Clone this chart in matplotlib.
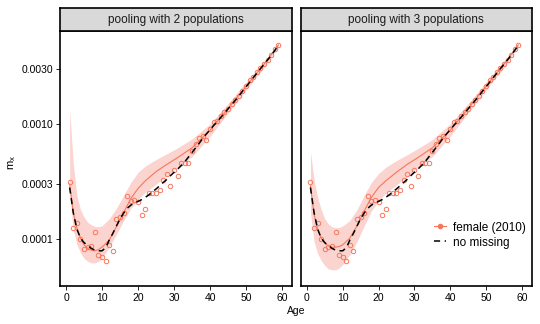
"""
Smoothed mx by age, pooling with 2 vs 3 populations
Generates: out.png
"""
import matplotlib
matplotlib.use("Agg")
import matplotlib.pyplot as plt
import numpy as np
from matplotlib.lines import Line2D

# observed female mx, ages 1..59
ages = np.arange(1, 60)
obs_mx = [
    3.1e-4, 1.24e-4, 1.37e-4, 1.0e-4, 8.2e-5, 8.5e-5, 8.7e-5, 1.15e-4, 7.2e-5, 7.0e-5,
    6.5e-5, 8.9e-5, 7.8e-5, 1.48e-4, 1.56e-4, 1.68e-4, 2.35e-4, 2.13e-4, 2.17e-4, 2.08e-4,
    1.61e-4, 1.81e-4, 2.53e-4, 2.5e-4, 2.5e-4, 2.69e-4, 3.26e-4, 3.65e-4, 2.87e-4, 3.95e-4,
    3.5e-4, 4.57e-4, 4.6e-4, 4.6e-4, 5.8e-4, 6.7e-4, 7.5e-4, 7.8e-4, 7.2e-4, 9.0e-4,
    1.03e-3, 1.05e-3, 1.17e-3, 1.27e-3, 1.35e-3, 1.50e-3, 1.60e-3, 1.75e-3, 1.93e-3, 2.12e-3,
    2.40e-3, 2.55e-3, 2.85e-3, 3.05e-3, 3.30e-3, 3.60e-3, 3.95e-3, 4.50e-3, 4.85e-3,
]

# complete-data fit ("no missing"), ages 1..59
nomiss_mx = [
    2.8e-4, 1.7e-4, 1.22e-4, 1.02e-4, 9.3e-5, 8.8e-5, 8.3e-5, 8.0e-5, 7.9e-5, 7.9e-5,
    8.4e-5, 9.8e-5, 1.12e-4, 1.3e-4, 1.5e-4, 1.68e-4, 1.85e-4, 1.97e-4, 2.05e-4, 2.12e-4,
    2.2e-4, 2.3e-4, 2.42e-4, 2.57e-4, 2.72e-4, 2.9e-4, 3.1e-4, 3.3e-4, 3.55e-4, 3.8e-4,
    4.05e-4, 4.35e-4, 4.7e-4, 5.15e-4, 5.65e-4, 6.2e-4, 6.8e-4, 7.5e-4, 8.2e-4, 8.9e-4,
    9.7e-4, 1.05e-3, 1.14e-3, 1.24e-3, 1.35e-3, 1.47e-3, 1.6e-3, 1.75e-3, 1.92e-3, 2.1e-3,
    2.3e-3, 2.52e-3, 2.76e-3, 3.02e-3, 3.3e-3, 3.6e-3, 3.95e-3, 4.35e-3, 4.8e-3,
]

# smoothed estimates with bands
fit_ages = [1, 2, 3, 4, 5, 6, 7, 8, 9, 10, 12, 14, 16, 18, 20, 22, 25, 28, 31, 35, 40, 45, 50, 55, 59]

fit2_mid = [3.0e-4, 1.7e-4, 1.25e-4, 1.02e-4, 8.9e-5, 8.3e-5, 8.0e-5, 7.9e-5, 8.1e-5, 8.5e-5,
            9.8e-5, 1.28e-4, 1.7e-4, 2.25e-4, 2.75e-4, 3.2e-4, 3.85e-4, 4.45e-4, 5.1e-4, 6.2e-4,
            8.8e-4, 1.36e-3, 2.12e-3, 3.3e-3, 4.85e-3]
fit2_hi = [1.35e-3, 4.5e-4, 2.4e-4, 1.8e-4, 1.55e-4, 1.4e-4, 1.33e-4, 1.28e-4, 1.28e-4, 1.3e-4,
           1.5e-4, 1.85e-4, 2.4e-4, 3.1e-4, 3.8e-4, 4.3e-4, 4.9e-4, 5.5e-4, 6.2e-4, 7.4e-4,
           1.0e-3, 1.5e-3, 2.3e-3, 3.5e-3, 5.0e-3]
fit2_lo = [2.5e-4, 1.2e-4, 9.0e-5, 7.6e-5, 6.8e-5, 6.4e-5, 6.2e-5, 6.2e-5, 6.4e-5, 6.8e-5,
           8.5e-5, 1.1e-4, 1.45e-4, 1.85e-4, 2.2e-4, 2.55e-4, 3.0e-4, 3.55e-4, 4.2e-4, 5.2e-4,
           7.8e-4, 1.25e-3, 1.98e-3, 3.1e-3, 4.7e-3]

fit3_mid = [2.9e-4, 1.65e-4, 1.22e-4, 1.02e-4, 9.2e-5, 8.7e-5, 8.5e-5, 8.5e-5, 8.6e-5, 8.9e-5,
            1.02e-4, 1.3e-4, 1.75e-4, 2.3e-4, 2.8e-4, 3.2e-4, 3.8e-4, 4.45e-4, 5.1e-4, 6.2e-4,
            8.8e-4, 1.36e-3, 2.12e-3, 3.3e-3, 4.85e-3]
fit3_hi = [5.7e-4, 3.3e-4, 2.3e-4, 1.8e-4, 1.5e-4, 1.35e-4, 1.28e-4, 1.25e-4, 1.26e-4, 1.3e-4,
           1.45e-4, 1.8e-4, 2.4e-4, 3.1e-4, 3.7e-4, 4.2e-4, 4.8e-4, 5.4e-4, 6.1e-4, 7.3e-4,
           1.0e-3, 1.5e-3, 2.3e-3, 3.5e-3, 5.0e-3]
fit3_lo = [1.7e-4, 9.5e-5, 7.5e-5, 6.5e-5, 5.9e-5, 5.5e-5, 5.4e-5, 5.4e-5, 5.6e-5, 6.0e-5,
           7.3e-5, 9.5e-5, 1.3e-4, 1.75e-4, 2.15e-4, 2.5e-4, 2.95e-4, 3.5e-4, 4.2e-4, 5.2e-4,
           7.8e-4, 1.25e-3, 1.98e-3, 3.1e-3, 4.7e-3]

panel_titles = ["pooling with 2 populations", "pooling with 3 populations"]
y_ticks = [1e-4, 3e-4, 1e-3, 3e-3]
y_ticklabels = ["0.0001", "0.0003", "0.0010", "0.0030"]
x_ticks = [0, 10, 20, 30, 40, 50, 60]

RED = "#F8765C"
BAND = "#FBD3CF"

plt.rcParams["font.family"] = ["Liberation Sans", "DejaVu Sans"]

fig = plt.figure(figsize=(5.4, 3.24), dpi=100)
panels = [(0.111, 0.430), (0.557, 0.428)]
bottom, height = 0.117, 0.787
strip_h = 0.071

fits = [(fit2_mid, fit2_lo, fit2_hi), (fit3_mid, fit3_lo, fit3_hi)]

axes = []
for i, ((left, width), (mid, lo, hi)) in enumerate(zip(panels, fits)):
    ax = fig.add_axes([left, bottom, width, height])
    axes.append(ax)
    ax.fill_between(fit_ages, lo, hi, color=BAND, linewidth=0, zorder=1)
    ax.plot(fit_ages, mid, color=RED, linewidth=0.8, zorder=3)
    ax.plot(ages, obs_mx, linestyle="none", marker="o", markersize=3.2,
            markerfacecolor="none", markeredgecolor=RED, markeredgewidth=0.7, zorder=4)
    ax.plot(ages, nomiss_mx, color="black", linewidth=1.1, dashes=(4, 3), zorder=5)

    ax.set_yscale("log")
    ax.set_ylim(3.9e-5, 6.4e-3)
    ax.set_xlim(-1.7, 62.8)
    ax.set_xticks(x_ticks)
    ax.set_yticks(y_ticks)
    ax.minorticks_off()
    ax.tick_params(labelsize=7.5, length=3, width=0.6, colors="black", pad=2)
    if i == 0:
        ax.set_yticklabels(y_ticklabels)
    else:
        ax.set_yticklabels([])
        ax.tick_params(axis="y", length=0)
    for spine in ax.spines.values():
        spine.set_linewidth(1.2)

    sax = fig.add_axes([left, bottom + height, width, strip_h])
    sax.set_facecolor("#D9D9D9")
    sax.set_xticks([])
    sax.set_yticks([])
    for spine in sax.spines.values():
        spine.set_linewidth(1.2)
    sax.text(0.5, 0.5, panel_titles[i], ha="center", va="center", fontsize=8.5, color="#1A1A1A")

handles = [
    Line2D([], [], color=RED, linewidth=0.8, marker="o", markersize=3, markerfacecolor=RED),
    Line2D([], [], color="black", linewidth=1.1, dashes=(4, 3)),
]
axes[1].legend(handles, ["female (2010)", "no missing"], loc="center left",
               bbox_to_anchor=(0.53, 0.2), frameon=False, fontsize=8.5,
               handlelength=1.0, handletextpad=0.6, labelspacing=0.25)

fig.text(0.022, 0.5, "$\\mathregular{m_x}$", rotation=90, ha="center", va="center", fontsize=8)
fig.text(0.548, 0.04, "Age", ha="center", va="center", fontsize=7.5)

fig.savefig("out.png", dpi=100, facecolor="white")
plt.close(fig)
